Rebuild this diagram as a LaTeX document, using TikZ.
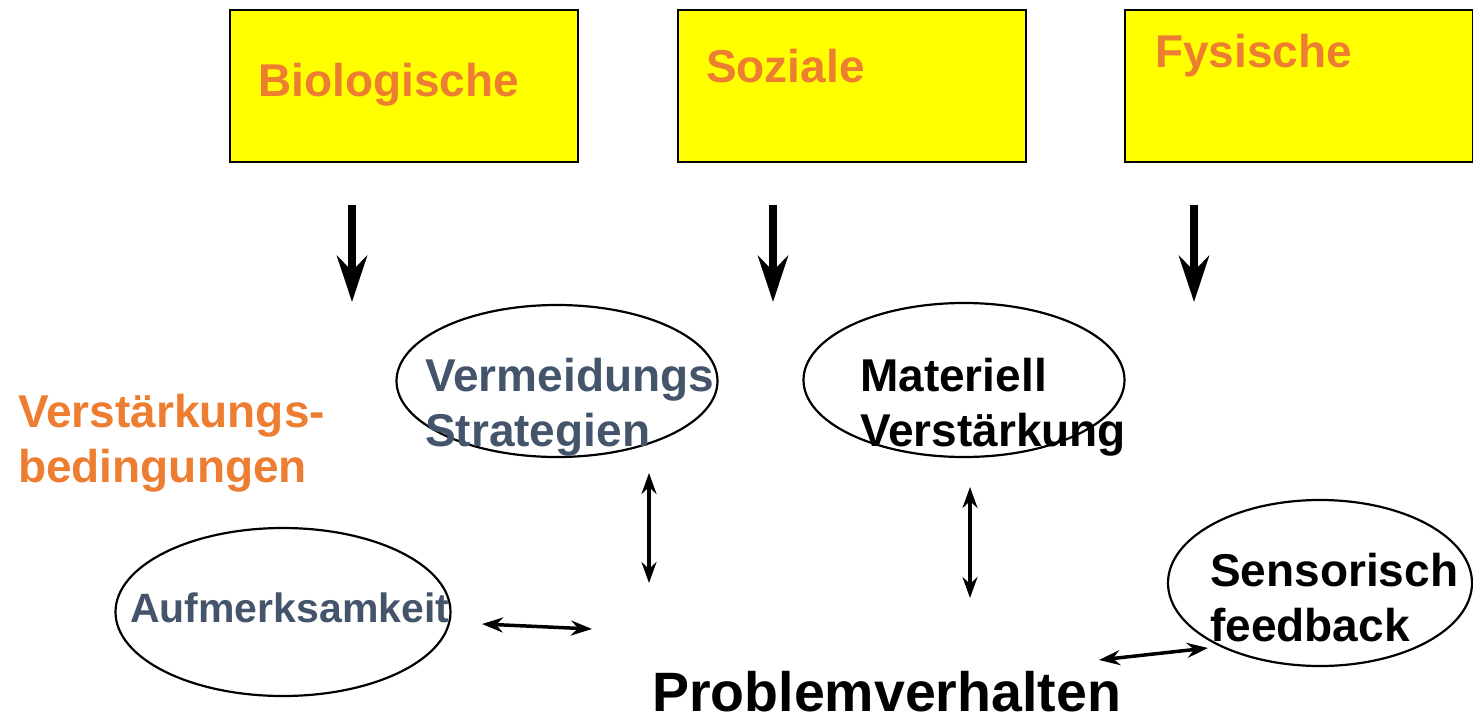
\documentclass[tikz,border=0pt]{standalone}
\usepackage{fontspec}
\setmainfont{Liberation Sans}
\usepackage{tikz}
\usetikzlibrary{arrows.meta,shapes.geometric}
\definecolor{vbyellow}{HTML}{FFFF00}
\definecolor{vborange}{HTML}{ED7D31}
\definecolor{vbslate}{HTML}{44546A}
\tikzset{
  factor/.style={draw=black,line width=2pt,fill=vbyellow,
                 minimum width=348pt,minimum height=152pt,inner sep=0pt},
  reinf/.style={ellipse,draw=black,line width=2.2pt,inner sep=0pt},
  lbl/.style={font=\fontsize{46}{55}\selectfont\bfseries,anchor=base west,
              inner sep=0pt,align=left},
  downe/.style={-{Stealth[length=46pt,width=30pt,inset=15pt]},line width=8pt},
  bothe/.style={{Stealth[length=21pt,width=15pt,inset=7pt]}-{Stealth[length=21pt,width=15pt,inset=7pt]},
                line width=3.5pt},
}

\begin{document}
\begin{tikzpicture}[x=1pt,y=-1pt]
  \useasboundingbox (0,0) rectangle (1473,718);

  % ---------- factors ----------
  \node[factor] (bio) at (403.5,86) {};
  \node[factor] (soz) at (852,86) {};
  \node[factor] (fys) at (1299,86) {};
  \node[lbl,text=vborange] (biot) at (258,96) {Biologische};
  \node[lbl,text=vborange] (sozt) at (706,82) {Soziale};
  \node[lbl,text=vborange] (fyst) at (1155,67) {Fysische};

  \foreach \x/\n in {352/bio,773/soz,1194/fys}{
    \coordinate (\n-a) at (\x,205);
    \coordinate (\n-b) at (\x,302);
    \draw[downe] (\n-a) -- (\n-b);}

  % ---------- reinforcement conditions ----------
  % (base anchor sits on the last line)
  \node[lbl,text=vborange] (cond) at (18,482) {Verstärkungs-\\bedingungen};

  \node[reinf,minimum width=321pt,minimum height=152pt] (verm) at (557,381) {};
  \node[lbl,text=vbslate] (vermt) at (425,446) {Vermeidungs\\Strategien};
  \node[reinf,minimum width=321pt,minimum height=154pt] (mat) at (964,380) {};
  \node[lbl] (matt) at (860,446) {Materiell\\Verstärkung};
  \node[reinf,minimum width=335pt,minimum height=168pt] (auf) at (283,612) {};
  \node[lbl,text=vbslate,font=\fontsize{41}{49}\selectfont\bfseries] (auft) at (130,622) {Aufmerksamkeit};
  \node[reinf,minimum width=304pt,minimum height=166pt] (sens) at (1320,583) {};
  \node[lbl] (senst) at (1210,641) {Sensorisch\\feedback};

  % ---------- problem behaviour ----------
  \node[lbl,font=\fontsize{55.5}{66}\selectfont\bfseries] (prob) at (652,711) {Problemverhalten};

  \coordinate (verm-a) at (649,473); \coordinate (verm-b) at (649,583);
  \coordinate (mat-a) at (970,487);  \coordinate (mat-b) at (970,598);
  \coordinate (auf-a) at (482,624);  \coordinate (auf-b) at (592,629);
  \coordinate (sens-a) at (1099,660); \coordinate (sens-b) at (1208,648);
  \draw[bothe] (verm-a) -- (verm-b);
  \draw[bothe] (mat-a) -- (mat-b);
  \draw[bothe] (auf-a) -- (auf-b);
  \draw[bothe] (sens-a) -- (sens-b);
\end{tikzpicture}
\end{document}
